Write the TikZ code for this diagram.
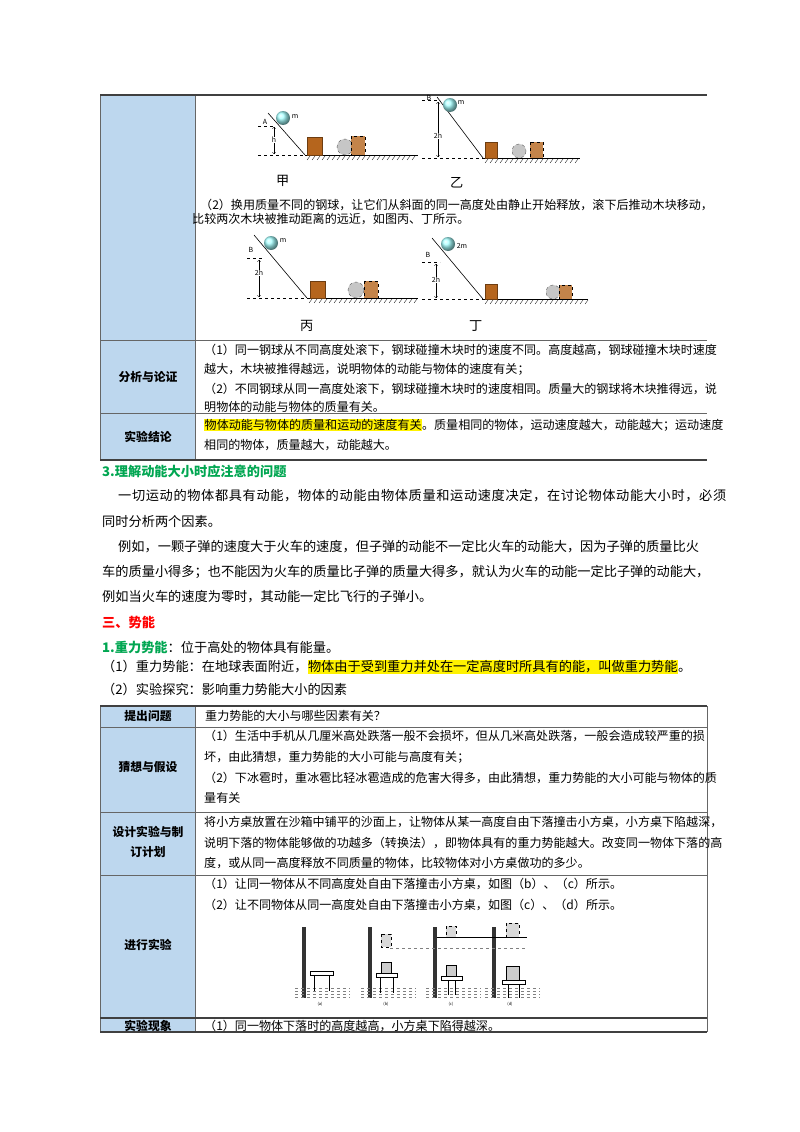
\documentclass[tikz,border=0pt]{standalone}
\usepackage{fontspec}
\setmainfont{Noto Sans CJK SC}
\definecolor{hdr}{HTML}{BDD7EE}
\definecolor{grn}{HTML}{00A651}
\definecolor{wood}{HTML}{B5651D}
\newcommand\hlt[1]{{\setlength\fboxsep{0.5pt}\colorbox{yellow}{#1}}}
\begin{document}
\begin{tikzpicture}[x=1pt,y=-1pt,
  tb/.style={anchor=west,inner sep=0pt,font=\fontsize{12.05}{12}\selectfont},
  hd/.style={anchor=center,inner sep=0pt,font=\fontsize{11.8}{12}\selectfont\bfseries},
  bd/.style={anchor=west,inner sep=0pt,font=\fontsize{13.2}{13}\selectfont},
  thick line/.style={line width=1.2pt,draw=black!75},
  thin line/.style={line width=0.5pt,draw=black!60},
  dsh/.style={dashed,line width=0.5pt},
  blk/.style={fill=wood,draw=wood!60!black,line width=0.4pt},
  grayc/.style={fill=gray!45,draw=gray!70!black,dashed,line width=0.4pt},
  crate/.style={fill=wood!80,draw=black,dashed,line width=0.4pt},
  ballst/.style={ball color=cyan!35},
  small/.style={inner sep=0pt,font=\fontsize{7}{8}\selectfont},
  tiny/.style={inner sep=0pt,font=\fontsize{4}{5}\selectfont}]
\useasboundingbox (0,0) rectangle (800,1132);
% ===== Table 1 =====
\fill[hdr] (100,95) rectangle (195,460);
\draw[thin line] (100,95) -- (100,460);
\draw[thin line] (195,95) -- (195,460);
\draw[thick line] (100,95) -- (707,95);
\draw[thin line] (100,340) -- (707,340);
\draw[thin line] (100,413) -- (707,413);
\draw[thick line] (100,460) -- (707,460);
% figure 甲
\draw[dsh] (258,155) -- (305,155); \draw[dsh] (258,126) -- (275,126);
\draw[line width=0.6pt] (268,113) -- (305,155);
\draw[line width=0.8pt] (305,155) -- (418,155);
\foreach \i in {307,312,...,415} \draw[line width=0.3pt] (\i,160) -- (\i+3,156);
\draw[blk] (307,137) rectangle (322,155);
\draw[grayc] (345,147) circle (8);
\draw[crate] (351,136) rectangle (365,155);
\shade[ballst] (283,118) circle (7);
\node[small] (m1) at (295,117) {m}; \node[small] (A1) at (265,122) {A};
\draw[<->,line width=0.4pt] (274,127) -- (274,154); \node[small,fill=white] (h1) at (274,140) {h};
\node[bd] (jia) at (276,181) {甲};
% figure 乙
\draw[dsh] (422,158) -- (483,158); \draw[dsh] (422,100) -- (440,100);
\draw[line width=0.6pt] (437,97) -- (483,158);
\draw[line width=0.8pt] (483,158) -- (580,158);
\foreach \i in {485,490,...,577} \draw[line width=0.3pt] (\i,163) -- (\i+3,159);
\draw[blk] (485,142) rectangle (497,158);
\draw[grayc] (519,151) circle (7);
\draw[crate] (530,142) rectangle (543,158);
\shade[ballst] (450,105) circle (7);
\node[small] (m2) at (461,103) {m}; \node[small] (B2) at (429,98) {B};
\draw[<->,line width=0.4pt] (438,102) -- (438,157); \node[small,fill=white] (h2) at (438,136) {2h};
\node[bd] (yi) at (450,183) {乙};
\node[tb] (t1a) at (200,205) {（2）换用质量不同的钢球，让它们从斜面的同一高度处由静止开始释放，滚下后推动木块移动，};
\node[tb] (t1b) at (192,219) {比较两次木块被推动距离的远近，如图丙、丁所示。};
% figure 丙
\draw[dsh] (247,298) -- (307,298); \draw[dsh] (247,258) -- (262,258);
\draw[line width=0.6pt] (254,235) -- (307,298);
\draw[line width=0.8pt] (307,298) -- (418,298);
\foreach \i in {309,314,...,415} \draw[line width=0.3pt] (\i,303) -- (\i+3,299);
\draw[blk] (310,281) rectangle (325,298);
\draw[grayc] (356,290) circle (8);
\draw[crate] (364,281) rectangle (378,298);
\shade[ballst] (271,243) circle (7);
\node[small] (m3) at (283,241) {m}; \node[small] (B3) at (251,250) {B};
\draw[<->,line width=0.4pt] (259,260) -- (259,297); \node[small,fill=white] (h3) at (259,273) {2h};
\node[bd] (bing) at (300,326) {丙};
% figure 丁
\draw[dsh] (422,299) -- (483,299); \draw[dsh] (422,262) -- (440,262);
\draw[line width=0.6pt] (432,238) -- (483,299);
\draw[line width=0.8pt] (483,299) -- (588,299);
\foreach \i in {485,490,...,585} \draw[line width=0.3pt] (\i,304) -- (\i+3,300);
\draw[blk] (485,284) rectangle (497,299);
\draw[grayc] (553,292) circle (7);
\draw[crate] (559,285) rectangle (572,299);
\shade[ballst] (448,244) circle (7);
\node[small] (m4) at (462,246) {2m}; \node[small] (B4) at (428,255) {B};
\draw[<->,line width=0.4pt] (436,264) -- (436,298); \node[small,fill=white] (h4) at (436,280) {2h};
\node[bd] (ding) at (469,326) {丁};
% row 2
\node[hd] (r2) at (148,377) {分析与论证};
\node[tb] (a1) at (204,350) {（1）同一钢球从不同高度处滚下，钢球碰撞木块时的速度不同。高度越高，钢球碰撞木块时速度};
\node[tb] (a2) at (204,369) {越大，木块被推得越远，说明物体的动能与物体的速度有关；};
\node[tb] (a3) at (204,389) {（2）不同钢球从同一高度处滚下，钢球碰撞木块时的速度相同。质量大的钢球将木块推得远，说};
\node[tb] (a4) at (204,407) {明物体的动能与物体的质量有关。};
% row 3
\node[hd] (r3) at (148,437) {实验结论};
\node[tb] (c1) at (204,425) {\hlt{物体动能与物体的质量和运动的速度有关}。质量相同的物体，运动速度越大，动能越大；运动速度};
\node[tb] (c2) at (204,445) {相同的物体，质量越大，动能越大。};
% ===== body =====
\node[bd,text=grn,font=\fontsize{13.2}{13}\selectfont\bfseries] (s3) at (102,471) {3.理解动能大小时应注意的问题};
\node[bd,font=\fontsize{13.2}{13}\selectfont\addfontfeatures{LetterSpace=4.8}] (p1) at (118,496) {一切运动的物体都具有动能，物体的动能由物体质量和运动速度决定，在讨论物体动能大小时，必须};
\node[bd] (p2) at (102,521) {同时分析两个因素。};
\node[bd] (p3) at (118,547) {例如，一颗子弹的速度大于火车的速度，但子弹的动能不一定比火车的动能大，因为子弹的质量比火};
\node[bd] (p4) at (102,572) {车的质量小得多；也不能因为火车的质量比子弹的质量大得多，就认为火车的动能一定比子弹的动能大，};
\node[bd] (p5) at (102,597) {例如当火车的速度为零时，其动能一定比飞行的子弹小。};
\node[bd,text=red,font=\fontsize{13.2}{13}\selectfont\bfseries] (s4) at (102,622) {三、势能};
\node[bd] (p6) at (102,647) {{\color{grn}\bfseries 1.重力势能}：位于高处的物体具有能量。};
\node[bd] (p7) at (102,667) {（1）重力势能：在地球表面附近，\hlt{物体由于受到重力并处在一定高度时所具有的能，叫做重力势能}。};
\node[bd] (p8) at (102,689) {（2）实验探究：影响重力势能大小的因素};
% ===== Table 2 =====
\fill[hdr] (100,706) rectangle (195,1032);
\draw[thin line] (100,706) -- (100,1032);
\draw[thin line] (195,706) -- (195,1032);
\draw[thin line] (707,706) -- (707,1032);
\draw[thick line] (100,706) -- (707,706);
\draw[thin line] (100,727) -- (707,727);
\draw[thin line] (100,812) -- (707,812);
\draw[thin line] (100,875) -- (707,875);
\draw[thick line] (100,1018) -- (707,1018);
\draw[thick line] (100,1032) -- (707,1032);
\node[hd] (q0) at (148,716) {提出问题};
\node[tb] (q1) at (205,716) {重力势能的大小与哪些因素有关？};
\node[hd] (g0) at (148,767) {猜想与假设};
\node[tb] (g1) at (204,736) {（1）生活中手机从几厘米高处跌落一般不会损坏，但从几米高处跌落，一般会造成较严重的损};
\node[tb] (g2) at (204,757) {坏，由此猜想，重力势能的大小可能与高度有关；};
\node[tb] (g3) at (204,778) {（2）下冰雹时，重冰雹比轻冰雹造成的危害大得多，由此猜想，重力势能的大小可能与物体的质};
\node[tb] (g4) at (204,798) {量有关};
\node[hd] (d0) at (148,832) {设计实验与制};
\node[hd] (d0b) at (148,852) {订计划};
\node[tb] (d1) at (204,822) {将小方桌放置在沙箱中铺平的沙面上，让物体从某一高度自由下落撞击小方桌，小方桌下陷越深，};
\node[tb] (d2) at (204,843) {说明下落的物体能够做的功越多（转换法），即物体具有的重力势能越大。改变同一物体下落的高};
\node[tb] (d3) at (204,863) {度，或从同一高度释放不同质量的物体，比较物体对小方桌做功的多少。};
\node[hd] (e0) at (148,945) {进行实验};
\node[tb] (e1) at (204,884) {（1）让同一物体从不同高度处自由下落撞击小方桌，如图（b）、（c）所示。};
\node[tb] (e2) at (204,905) {（2）让不同物体从同一高度处自由下落撞击小方桌，如图（c）、（d）所示。};
\node[hd] (f0) at (148,1026) {实验现象};
\node[tb] (f1) at (204,1026) {（1）同一物体下落时的高度越高，小方桌下陷得越深。};
% sand-table figures
\foreach \x/\lab in {302/a,368/b,433/c,492/d}{
  \fill[black!80] (\x,927) rectangle (\x+4,998);
  \foreach \k in {0,1,2,3} \draw[dashed,line width=0.3pt,gray] (\x-7,988+3*\k) -- (\x+48,988+3*\k);
  \node[tiny] (lab\lab) at (\x+18,1004) {(\lab)};
}
% (a)
\draw[line width=0.6pt,fill=white] (310,971) rectangle (333,975);
\draw[line width=0.6pt] (314,975) -- (314,991) (329,975) -- (329,991);
% (b)
\draw[dashed,gray] (390,948) -- (527,948);
\draw[dashed,fill=gray!30] (381,934) rectangle (391,947);
\draw[fill=gray!40] (381,962) rectangle (391,973);
\draw[line width=0.6pt,fill=white] (376,973) rectangle (397,977);
\draw[line width=0.6pt] (380,977) -- (380,993) (393,977) -- (393,993);
% (c)
\draw[line width=0.6pt] (437,937) -- (527,937);
\draw[dashed,fill=gray!30] (446,926) rectangle (456,937);
\draw[fill=gray!40] (446,965) rectangle (456,976);
\draw[line width=0.6pt,fill=white] (441,976) rectangle (462,980);
\draw[line width=0.6pt] (448,980) -- (448,995) (455,980) -- (455,995);
% (d)
\draw[dashed,fill=gray!30] (506,923) rectangle (519,937);
\draw[fill=gray!40] (506,966) rectangle (519,980);
\draw[line width=0.6pt,fill=white] (502,980) rectangle (525,984);
\draw[line width=0.6pt] (508,984) -- (508,998) (519,984) -- (519,998);
\end{tikzpicture}
\end{document}
